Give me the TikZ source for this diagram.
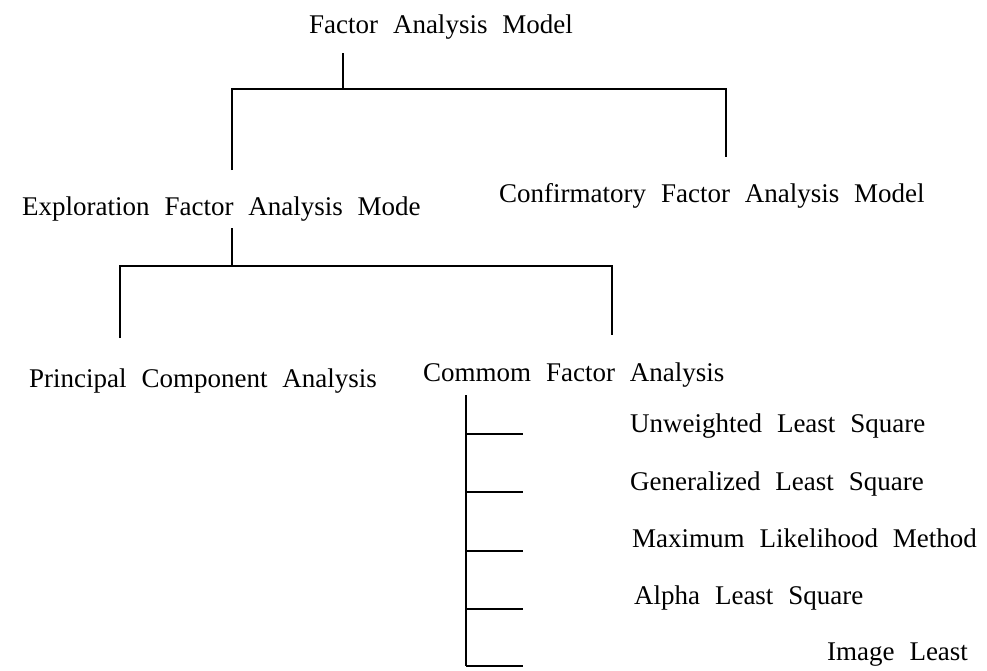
\documentclass[tikz,border=0pt]{standalone}
\usepackage{fontspec}
\setmainfont{Liberation Serif}[WordSpace=2.2]

\begin{document}
\begin{tikzpicture}[
    x=1pt, y=-1pt,
    lbl/.style={anchor=base west, inner sep=2pt, font=\fontsize{27}{32}\selectfont},
    link/.style={line width=1.3pt, black},
]
    \useasboundingbox (0,0) rectangle (987,671);

    % labels
    \node[lbl] (fam)  at (307,34)  {Factor Analysis Model};
    \node[lbl] (efa)  at (20,215)  {Exploration Factor Analysis Mode};
    \node[lbl] (cfa)  at (497,203) {Confirmatory Factor Analysis Model};
    \node[lbl] (pca)  at (27,387)  {Principal Component Analysis};
    \node[lbl] (cfan) at (421,381) {Commom Factor Analysis};
    \node[lbl] (uls)  at (628,432) {Unweighted Least Square};
    \node[lbl] (gls)  at (628,490) {Generalized Least Square};
    \node[lbl] (mlm)  at (630,547) {Maximum Likelihood Method};
    \node[lbl] (als)  at (632,604) {Alpha Least Square};
    \node[lbl] (ils)  at (825,660) {Image Least};

    % first split
    \coordinate (j1)  at (343,89);
    \coordinate (b1l) at (232,89);
    \coordinate (b1r) at (726,89);
    \draw[link, shorten <=11pt] (j1 |- fam.south) -- (j1);
    \draw[link, shorten <=24pt, shorten >=25pt]
        (b1l |- efa.north) -- (b1l) -- (b1r) -- (b1r |- cfa.north);

    % second split
    \coordinate (j2)  at (232,266);
    \coordinate (b2l) at (120,266);
    \coordinate (b2r) at (612,266);
    \draw[link, shorten <=5pt] (j2 |- efa.south) -- (j2);
    \draw[link, shorten <=28pt, shorten >=25pt]
        (b2l |- pca.north) -- (b2l) -- (b2r) -- (b2r |- cfan.north);

    % methods
    \coordinate (sp) at (466,666);
    \draw[link, shorten <=6pt] (sp |- cfan.south) -- (sp);
    \foreach \n/\y in {uls/434, gls/492, mlm/551, als/609, ils/666} {
        \coordinate (t\n) at (523,\y);
        \draw[link] (t\n -| sp) -- (t\n);
    }
\end{tikzpicture}
\end{document}
